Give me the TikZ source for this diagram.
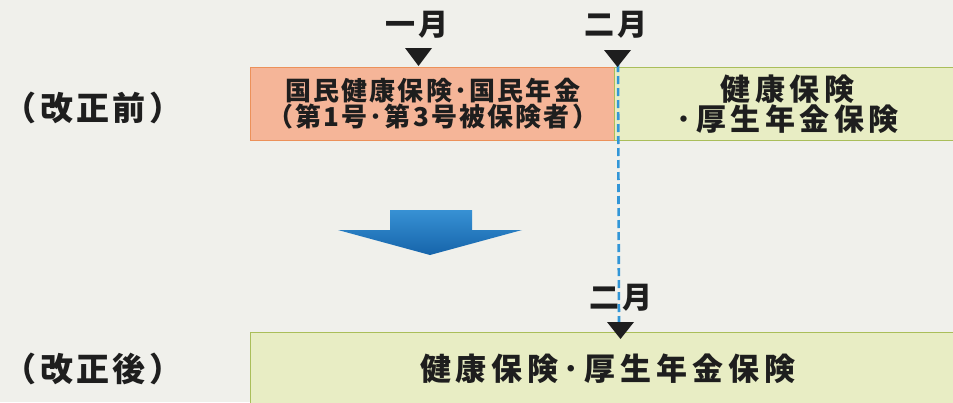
\documentclass[tikz,border=0pt]{standalone}
\usepackage{fontspec}
\newfontfamily\jpbox{Noto Sans CJK JP}[LetterSpace=8.5]
\newfontfamily\jpgreen{Noto Sans CJK JP}[LetterSpace=15]
\newfontfamily\jpnew{Noto Sans CJK JP}[LetterSpace=16]
\newfontfamily\jpmonth{Noto Sans CJK JP}[LetterSpace=12]
\newfontfamily\jplabel{Noto Sans CJK JP}[LetterSpace=10]
\newcommand\mytightlines{\lineskiplimit=-50pt\relax\lineskip=0pt\relax}
\definecolor{bg}{RGB}{240,240,235}
\definecolor{orfill}{RGB}{245,181,152}
\definecolor{ordraw}{RGB}{236,145,90}
\definecolor{grfill}{RGB}{232,237,196}
\definecolor{grdraw}{RGB}{170,190,90}
\definecolor{arrowtop}{RGB}{55,145,212}
\definecolor{arrowbot}{RGB}{22,100,170}
\definecolor{dashblue}{RGB}{50,150,215}
\definecolor{ink}{RGB}{30,30,30}
\begin{document}
\begin{tikzpicture}[x=1pt,y=-1pt,
  boxbase/.style={rectangle, inner sep=0pt, align=center, text=ink, line width=1.2pt, anchor=north west},
  obox/.style={boxbase, fill=orfill, draw=ordraw,
    font=\jpbox\bfseries\fontsize{26}{26}\selectfont\mytightlines},
  gbox/.style={boxbase, fill=grfill, draw=grdraw,
    font=\jpgreen\bfseries\fontsize{30}{30}\selectfont\mytightlines},
  nbox/.style={boxbase, fill=grfill, draw=grdraw, font=\jpnew\bfseries\fontsize{31}{32}\selectfont},
  month/.style={inner sep=0pt, text=ink, font=\jpmonth\bfseries\fontsize{30}{30}\selectfont},
  sidelabel/.style={inner sep=0pt, text=ink, font=\jplabel\bfseries\fontsize{33}{34}\selectfont},
  marker/.style={fill=ink},
  dashline/.style={dashblue, line width=2.6pt, dash pattern=on 8pt off 4pt}
]
\useasboundingbox (0,0) rectangle (953,402);
\clip (0,0) rectangle (953,402);
\fill[bg] (0,0) rectangle (953,402);

% side labels
\node[sidelabel] (before) at (93,108) {（改正前）};
\node[sidelabel] (after) at (93,369) {（改正後）};

% boxes
\node[obox, minimum width=364pt, minimum height=73pt] (old) at (250,67)
  {国民健康保険･国民年金\\（第1号･第3号被保険者）};
\node[gbox, minimum width=346pt, minimum height=73pt] (oldgreen) at (614,67)
  {健康保険\\･厚生年金保険};
\node[nbox, minimum width=714pt, minimum height=72pt] (new) at (250,332)
  {健康保険･厚生年金保険};

% month labels
\node[month] (m1) at (417,25) {一月};
\node[month] (m2) at (616,25) {二月};
\node[month] (m3) at (621,298) {二月};

% dashed connector
\coordinate (dtop) at (618,64);
\coordinate (dbot) at (619,324);
\draw[dashline] (dtop) -- (dbot);

% markers
\fill[marker] (405,48) -- (432,48) -- (418.5,66) -- cycle;
\fill[marker] (604,50) -- (631,50) -- (617.5,67) -- cycle;
\fill[marker] (607,322) -- (634,322) -- (620.5,339) -- cycle;

% big down arrow
\shade[top color=arrowtop, bottom color=arrowbot] (390,210) -- (472,210) -- (472,230) -- (522,230)
  -- (430,255) -- (338,230) -- (390,230) -- cycle;
\end{tikzpicture}
\end{document}
